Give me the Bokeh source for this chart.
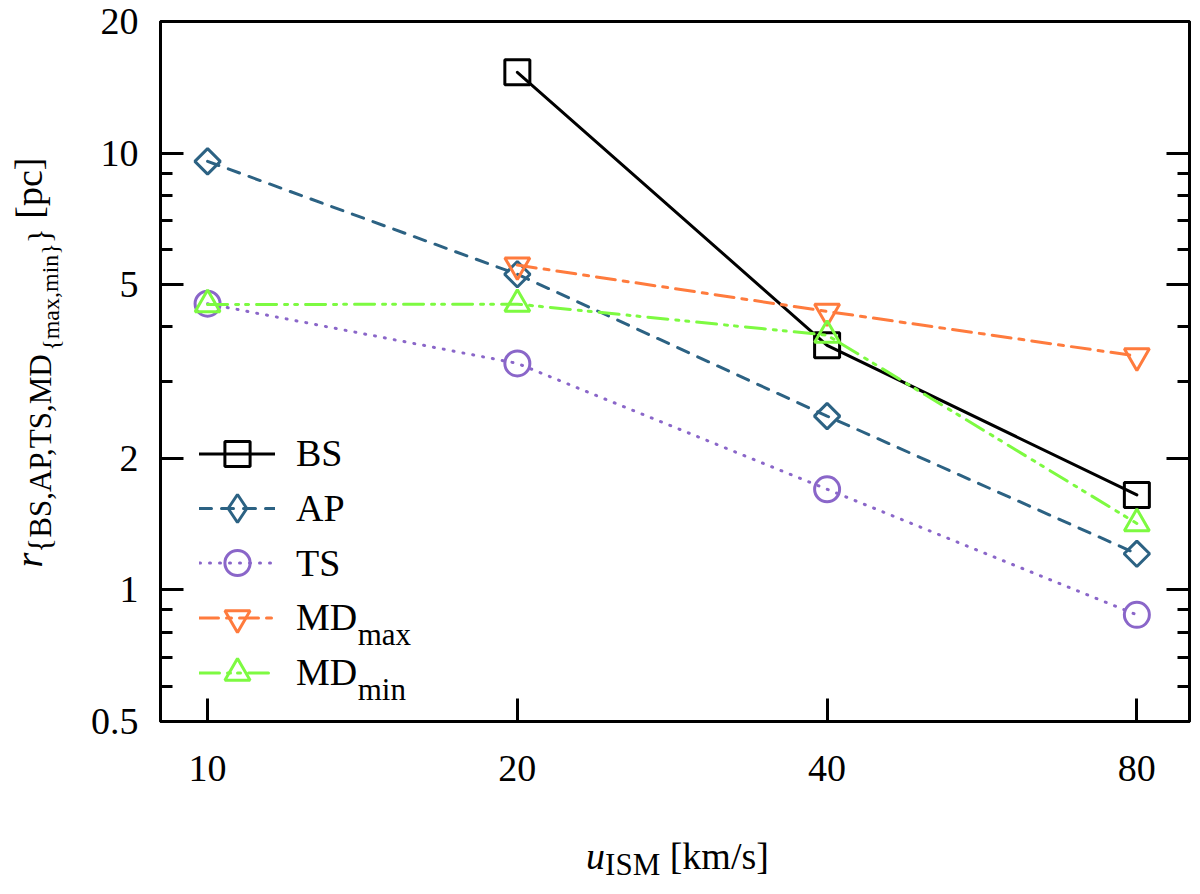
import numpy as np
from bokeh.plotting import figure
from bokeh.models import (Range1d, FixedTicker, LogAxis, Legend, LegendItem, Label,
                          ColumnDataSource)
from bokeh.embed import file_html
from bokeh.resources import INLINE

# flow speed of the ISM [km/s] and characteristic radii [pc]
speed = [10, 20, 40, 80]
speed_bs = [20, 40, 80]
r_bs = [15.3, 3.63, 1.65]
r_ap = [9.57, 5.28, 2.50, 1.21]
r_ts = [4.52, 3.30, 1.70, 0.877]
speed_mdmax = [20, 40, 80]
r_mdmax = [5.54, 4.34, 3.43]
r_mdmin = [4.50, 4.51, 3.83, 1.42]

x_ticks = [10, 20, 40, 80]
y_ticks = [0.5, 1, 2, 5, 10, 20]
y_tick_labels = ["0.5", "1", "2", "5", "10", "20"]
y_minor_ticks = [0.6, 0.7, 0.8, 0.9, 3, 4, 6, 7, 8, 9]
x_lim = (9, 90)
y_lim = (0.5, 20)

FONT = "Liberation Serif"
BIG, SUB, SUBSUB = 38, 31, 24

# rough Times advance widths (em), used to chain sub/superscript pieces
EM = {"{": .48, "}": .48, "B": .667, "S": .556, "A": .722, "P": .556, "T": .611,
      "M": .889, "D": .722, "m": .778, "a": .444, "x": .5, "i": .278, "n": .5,
      ",": .25, " ": .25, "[": .333, "]": .333, "p": .5, "c": .444, "I": .333,
      "k": .5, "/": .278, "s": .389, "r": .389, "u": .5}


def text_width(txt, size):
    return sum(EM.get(ch, .5) for ch in txt) * size


p = figure(width=1198, height=892, x_axis_type="log", y_axis_type="log",
           x_range=Range1d(*x_lim), y_range=Range1d(*y_lim),
           output_backend="svg", toolbar_location=None,
           min_border_left=160, min_border_right=9, min_border_top=21, min_border_bottom=171)
p.grid.visible = False
p.outline_line_color = "black"
p.outline_line_width = 3


def style_axis(ax, ticker):
    ax.ticker = ticker
    ax.axis_line_width = 3
    ax.major_tick_in = 23
    ax.major_tick_out = 0
    ax.minor_tick_in = 12
    ax.minor_tick_out = 0
    ax.major_tick_line_width = 3
    ax.minor_tick_line_width = 3
    ax.major_label_text_font = FONT
    ax.major_label_text_font_size = f"{BIG}px"
    ax.major_label_text_color = "black"


style_axis(p.xaxis[0], FixedTicker(ticks=x_ticks, minor_ticks=[]))
p.xaxis[0].major_label_standoff = 34
p.xaxis[0].major_label_overrides = {t: str(t) for t in x_ticks}

style_axis(p.yaxis[0], FixedTicker(ticks=y_ticks, minor_ticks=y_minor_ticks))
p.yaxis[0].major_label_standoff = 22
p.yaxis[0].major_label_overrides = dict(zip(y_ticks, y_tick_labels))

right = LogAxis()
style_axis(right, FixedTicker(ticks=y_ticks, minor_ticks=y_minor_ticks))
right.major_label_overrides = {t: "" for t in y_ticks}
right.major_label_standoff = 0
p.add_layout(right, "right")

series = [
    ("BS", "", speed_bs, r_bs, "black", "solid", "square", 0, 25),
    ("AP", "", speed, r_ap, "#2c6283", "12 10", "square", np.pi / 4, 18),
    ("TS", "", speed, r_ts, "#8a66c9", "1 9", "circle", 0, 25),
    ("MD", "max", speed_mdmax, r_mdmax, "#ff7b3d", "19 8 5 8", "inverted_triangle", 0, 25),
    ("MD", "min", speed, r_mdmin, "#7dfa41", "20 8 3 7 3 8", "triangle", 0, 25),
]

leg_x, leg_top, leg_pitch, glyph_w, glyph_h, standoff = 39, 268, 54.8, 76, 63, 21

for i, (name, sub, xs, ys, color, dash, marker, angle, size) in enumerate(series):
    ln = p.line(xs, ys, line_color=color, line_width=3, line_dash=dash, line_cap="round")
    sc = p.scatter(xs, ys, marker=marker, size=size, angle=angle,
                   line_color=color, line_width=3, fill_alpha=0)
    gh = glyph_h
    leg_marks = sc
    if angle:
        # the legend draws markers unrotated: a zero-size diamond only shows up there
        gh = 70
        leg_marks = p.scatter(xs, ys, marker="diamond", size=0, line_color=color,
                              line_width=3, fill_alpha=0)
    centre = leg_top - i * leg_pitch
    leg = Legend(items=[LegendItem(label=name, renderers=[ln, leg_marks])],
                 location=(leg_x, centre - gh / 2), padding=0, margin=0, spacing=0,
                 glyph_width=glyph_w, glyph_height=gh, label_standoff=standoff,
                 border_line_color=None, background_fill_alpha=0,
                 label_text_font=FONT, label_text_font_size=f"{BIG}px", label_text_color="black")
    p.add_layout(leg)
    if sub:
        p.add_layout(Label(x=leg_x + glyph_w + standoff + text_width(name, BIG), y=centre - 17,
                           x_units="screen", y_units="screen", text=sub,
                           text_font=FONT, text_font_size=f"{SUB}px", text_color="black",
                           text_baseline="alphabetic", text_align="left"))


# axis titles with sub-/subsubscripts: text pieces hung off the frame's lower-left
# corner with pixel offsets (drawn at overlay level so they are not clipped)
pieces = dict(text=[], xo=[], yo=[], size=[], style=[], angle=[])


def chain(parts, start, base, angle):
    pos = start
    for txt, size, style, shift in parts:
        lead = len(txt) - len(txt.lstrip())
        pos += lead * EM[" "] * size
        txt = txt.lstrip()
        pieces["text"].append(txt)
        pieces["size"].append(f"{size}px")
        pieces["style"].append(style)
        pieces["angle"].append(angle)
        if angle == 0:
            pieces["xo"].append(pos)
            pieces["yo"].append(base + shift)
        else:
            pieces["xo"].append(base + shift)
            pieces["yo"].append(-pos)
        pos += text_width(txt, size)


x_label = [("u", BIG, "italic", 0), ("ISM", SUB, "normal", 9), (" [km/s]", BIG, "normal", 0)]
x_len = sum(text_width(t, s) for t, s, _, _ in x_label)
chain(x_label, 517 - x_len / 2, 134, 0)

y_label = [("r", BIG, "italic", 0), ("{BS,AP,TS,MD", SUB, "normal", 12),
           ("{max,min}", SUBSUB, "normal", 22), ("}", SUB, "normal", 12),
           (" [pc]", BIG, "normal", 0)]
y_len = sum(text_width(t, s) for t, s, _, _ in y_label)
chain(y_label, 359 - y_len / 2, -132, np.pi / 2)

n = len(pieces["text"])
src = ColumnDataSource(dict(x=[x_lim[0]] * n, y=[y_lim[0]] * n, **pieces))
p.text("x", "y", text="text", x_offset="xo", y_offset="yo", angle="angle",
       text_font_size="size", text_font_style="style", text_font={"value": FONT},
       text_color="black", text_baseline="alphabetic", text_align="left",
       source=src, level="overlay")

open("out.html", "w").write(file_html(p, INLINE))
